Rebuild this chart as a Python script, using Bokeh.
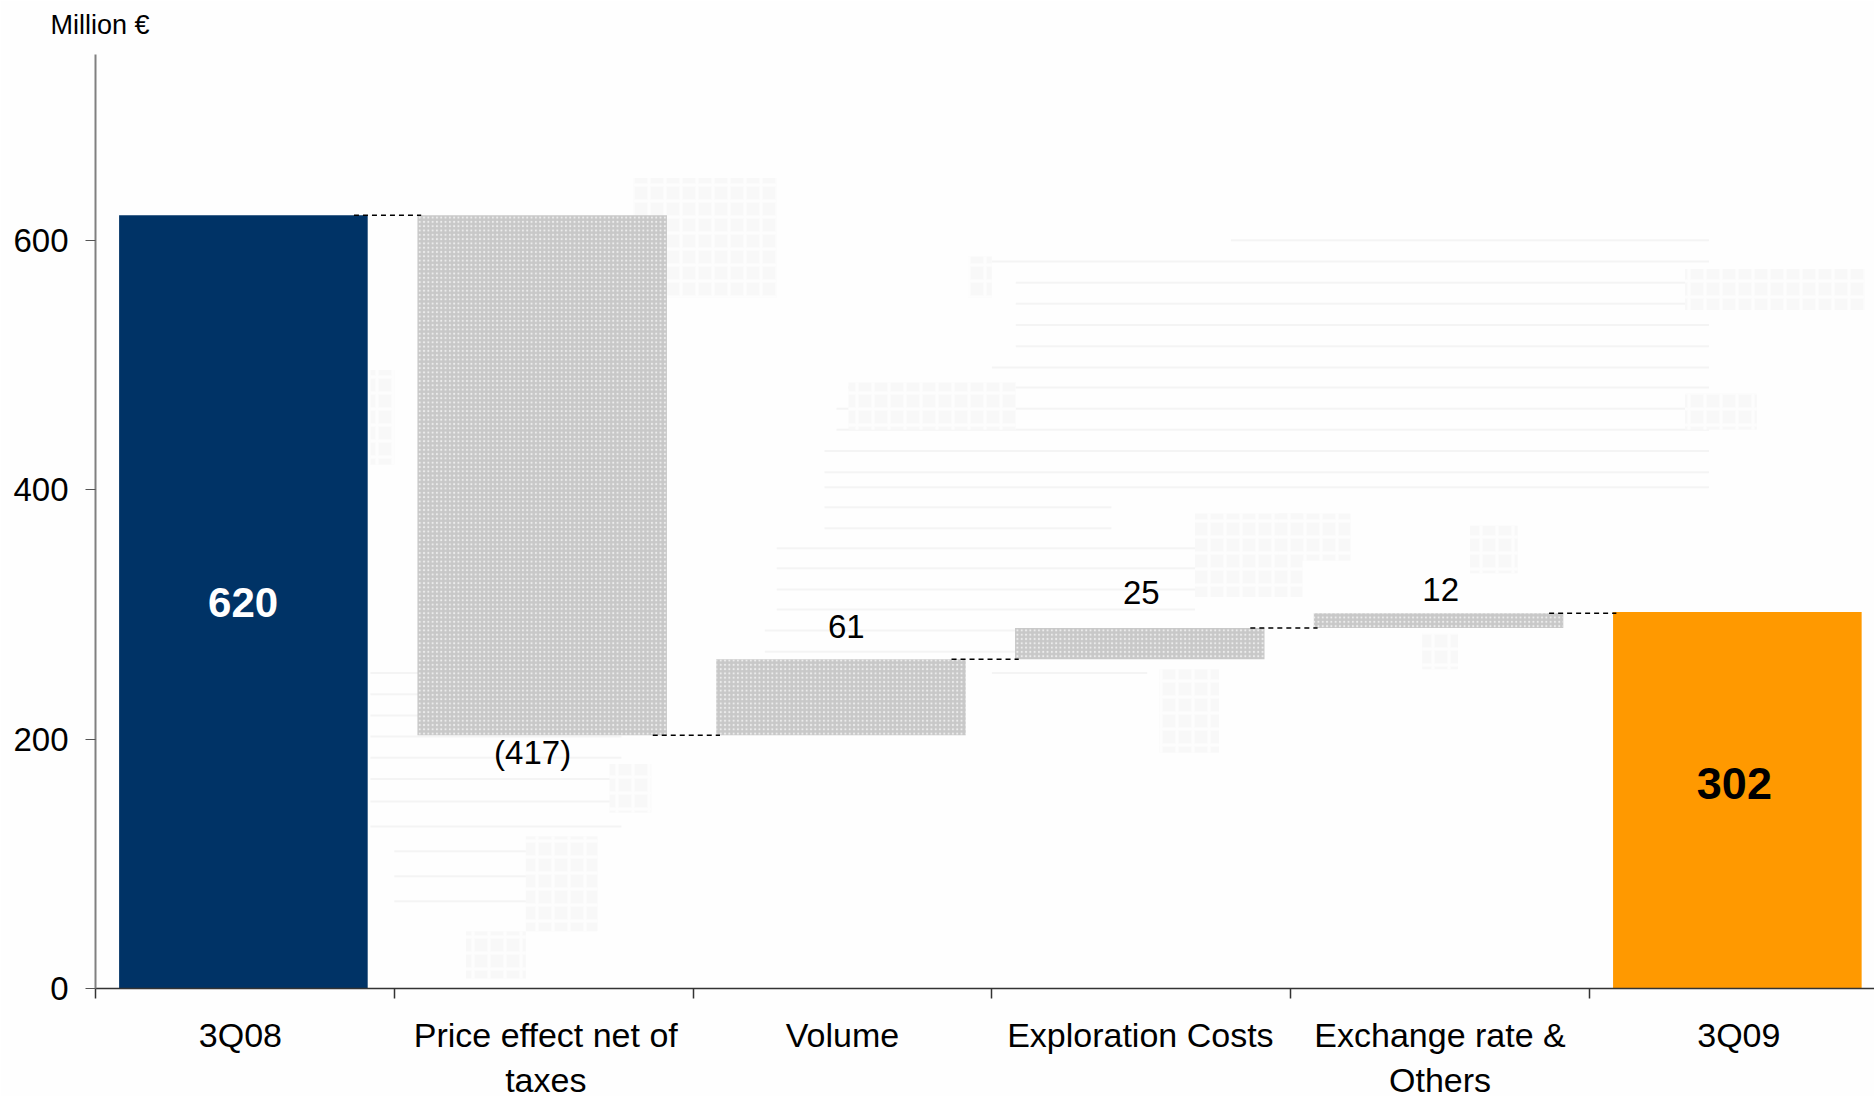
from bokeh.embed import file_html
from bokeh.resources import INLINE
from bokeh.plotting import figure
from bokeh.models import Range1d, FixedTicker, Title
from bokeh.core.properties import value

FONT = "Liberation Sans"

# Bridge from one quarter's result to the next, million euros
categories = ["3Q08", "Price effect net of\ntaxes", "Volume", "Exploration Costs", "Exchange rate &\nOthers", "3Q09"]
changes = [620, -417, 61, 25, 12, 302]
value_labels = ["620", "(417)", "61", "25", "12", "302"]
label_heights = [309.5, 189.5, 290, 317.5, 320, 164]
label_centres = [0.494, 1.463, 2.513, 3.5, 4.502, 5.485]
label_sizes = ["42px", "33px", "33px", "33px", "33px", "45px"]
category_centres = [0.485, 1.507, 2.5, 3.497, 4.5, 5.5]
y_ticks = [0, 200, 400, 600]

# Faint world map behind the chart: rows of (value, start, end) and blocks
map_rows = [
    (600, 3.8, 5.4), (583, 3.0, 5.4), (566, 3.08, 5.4), (549, 3.08, 5.4), (532, 3.08, 5.4),
    (515, 3.08, 5.4), (498, 3.0, 5.4), (482, 2.52, 5.4), (465, 2.48, 5.4), (448, 2.48, 5.4),
    (431, 2.44, 5.4), (414, 2.44, 5.4), (402, 2.44, 5.4), (386, 2.44, 3.4), (369, 2.44, 3.4),
    (353, 2.28, 3.84), (337, 2.28, 3.84), (320, 2.28, 3.92), (304, 2.28, 3.68), (287, 2.24, 3.6),
    (270, 2.24, 3.52), (253, 0.92, 1.76), (253, 3.0, 3.52), (236, 0.92, 1.76), (219, 0.92, 1.76),
    (202, 0.92, 1.76), (185, 0.92, 1.76), (168, 0.92, 1.76), (150, 0.92, 1.76), (130, 0.92, 1.76),
    (110, 1.0, 1.6), (90, 1.0, 1.6), (70, 1.0, 1.6),
]
map_blocks = [
    (1.8, 2.28, 554, 650), (2.92, 3.0, 554, 587), (5.32, 5.92, 544, 577), (3.68, 4.04, 314, 381),
    (3.96, 4.2, 343, 381), (4.6, 4.76, 333, 371), (4.44, 4.56, 256, 285), (3.56, 3.76, 189, 256),
    (1.72, 1.86, 141, 180), (1.44, 1.68, 46, 122), (1.24, 1.44, 8, 46), (0.92, 1.0, 420, 496),
    (2.52, 3.08, 448, 486), (5.32, 5.56, 448, 477),
]

# Running totals give each floating bar its two ends
bottoms, tops, levels = [], [], []
running = 0
for i, change in enumerate(changes):
    if i in (0, len(changes) - 1):
        bottoms.append(0)
        tops.append(change)
        running = change
    else:
        bottoms.append(min(running, running + change))
        tops.append(max(running, running + change))
        running += change
    levels.append(running)

# The unit caption sits in the title band, to the left of the value axis
caption = Title(
    text="Million €", align="left", offset=-45, standoff=2,
    text_font=FONT, text_font_size="27px", text_font_style="normal", text_color="black",
)

p = figure(
    width=1874, height=1096, frame_width=1779, frame_height=948,
    min_border_left=95, min_border_right=0, min_border_top=40, min_border_bottom=108,
    output_backend="svg", toolbar_location=None, title=caption,
    x_range=Range1d(0, 5.954), y_range=Range1d(0, 760.2),
    background_fill_color="#fefefe", border_fill_color="#fefefe",
)
p.outline_line_color = None
p.grid.visible = False

p.segment(
    [r[1] for r in map_rows], [r[0] for r in map_rows],
    [r[2] for r in map_rows], [r[0] for r in map_rows],
    line_color="#f4f4f4", line_width=2,
)
p.quad(
    left=[b[0] for b in map_blocks], right=[b[1] for b in map_blocks],
    bottom=[b[2] for b in map_blocks], top=[b[3] for b in map_blocks],
    fill_color="#f8f8f8", line_color=None,
    hatch_pattern="+", hatch_color="#fdfdfd", hatch_scale=16, hatch_weight=3,
)

centres = [i + 0.495 for i in range(len(changes))]

p.vbar(x=centres[0], bottom=bottoms[0], top=tops[0], width=0.832, fill_color="#003366", line_color=None)
p.vbar(x=centres[-1], bottom=bottoms[-1], top=tops[-1], width=0.832, fill_color="#ff9900", line_color=None)
p.vbar(
    x=centres[1:-1], bottom=bottoms[1:-1], top=tops[1:-1], width=0.835,
    fill_color="#c8c8c8", line_color=None,
    hatch_pattern="dot", hatch_color="#ececec", hatch_scale=4.3, hatch_weight=1,
)

# Dashed connectors between neighbouring bars
p.segment(
    [i + 0.865 for i in range(5)], levels[:5],
    [i + 1.09 for i in range(5)], levels[:5],
    line_color="black", line_width=1.5, line_dash="5 4",
)

for i, text in enumerate(value_labels):
    bold = i in (0, 5)
    colour = "white" if i == 0 else "black"
    p.text(
        x=[label_centres[i]], y=[label_heights[i]], text=[text],
        text_font=value(FONT), text_font_size=label_sizes[i],
        text_font_style="bold" if bold else "normal",
        text_color=colour, text_align="center", text_baseline="middle",
    )

yaxis = p.yaxis[0]
yaxis.ticker = FixedTicker(ticks=y_ticks)
yaxis.bounds = (0, 749)
yaxis.axis_line_color = "#808080"
yaxis.axis_line_width = 2
yaxis.major_tick_line_color = "#555555"
yaxis.major_tick_in = 0
yaxis.major_tick_out = 10
yaxis.minor_tick_line_color = None
yaxis.major_label_standoff = 17
yaxis.major_label_text_font = FONT
yaxis.major_label_text_font_size = "33px"
yaxis.major_label_text_color = "black"

xaxis = p.xaxis[0]
xaxis.ticker = FixedTicker(ticks=category_centres, minor_ticks=list(range(len(categories) + 1)))
xaxis.major_label_overrides = dict(zip(category_centres, categories))
xaxis.axis_line_color = "#333333"
xaxis.axis_line_width = 1.5
xaxis.major_tick_line_color = None
xaxis.minor_tick_line_color = "#333333"
xaxis.minor_tick_line_width = 1.5
xaxis.minor_tick_in = 0
xaxis.minor_tick_out = 10
xaxis.major_label_standoff = 17
xaxis.major_label_text_font = FONT
xaxis.major_label_text_font_size = "34px"
xaxis.major_label_text_color = "black"
xaxis.major_label_orientation = "horizontal"

open("out.html", "w").write(file_html(p, INLINE))
